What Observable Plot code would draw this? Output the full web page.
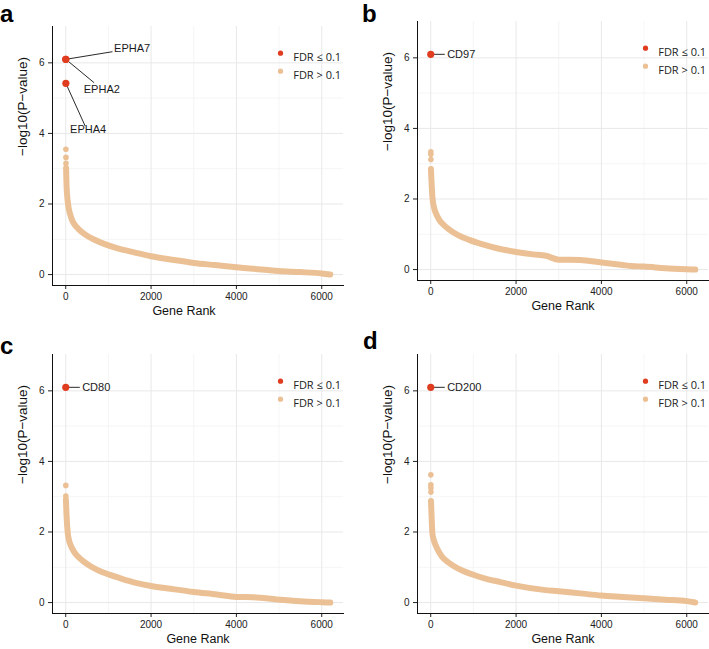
<!DOCTYPE html>
<html><head><meta charset="utf-8">
<script src="https://cdn.jsdelivr.net/npm/d3@7"></script>
<script src="https://cdn.jsdelivr.net/npm/@observablehq/plot@0.6"></script>
<style>
body{margin:0;background:#fff;overflow:hidden;font-family:"Liberation Sans",Arial,sans-serif}
#fig{position:relative;width:709px;height:649px;overflow:hidden;background:#fff}
.panel{position:absolute}
.tag{position:absolute;font:bold 24px "Liberation Sans",Arial,sans-serif;line-height:normal;color:#000}
</style></head><body><div id="fig"></div>
<script>
// ---- axis ticks & labels ----
const xTicks = [0, 2000, 4000, 6000];
const xMinor = [1000, 3000, 5000];
const yTicks = [0, 2, 4, 6];
const yMinor = [1, 3, 5];
const xTitle = "Gene Rank";
const yTitle = "\u2212log10(P\u2212value)";
const legendLabels = ["FDR \u2264 0.1", "FDR > 0.1"];
const panelTags = ["a", "b", "c", "d"];

// ---- panel a ----
const hitGenesA = ["EPHA7", "EPHA2", "EPHA4"];
const hitRanksA = [1, 2, 3];
const hitValuesA = [6.1, 6.1, 5.42];
const outRanksA = [4, 5, 6];
const outValuesA = [3.55, 3.32, 3.15];
const curveRanksA = [8, 20, 40, 70, 100, 150, 200, 300, 450, 650, 900, 1200, 1600, 2000, 2500, 3000, 3500, 4000, 4500, 5000, 5500, 6000, 6200];
const curveValuesA = [3.02, 2.5, 2.15, 1.88, 1.72, 1.54, 1.43, 1.29, 1.14, 1.0, 0.87, 0.75, 0.63, 0.52, 0.42, 0.33, 0.27, 0.21, 0.15, 0.1, 0.07, 0.03, 0.0];

// ---- panel b ----
const hitGenesB = ["CD97"];
const hitRanksB = [1];
const hitValuesB = [6.1];
const outRanksB = [2, 3, 4];
const outValuesB = [3.34, 3.27, 3.12];
const curveRanksB = [5, 20, 40, 70, 120, 200, 300, 450, 650, 900, 1200, 1600, 2000, 2400, 2700, 3000, 3500, 4000, 4500, 4700, 5000, 5500, 6000, 6200];
const curveValuesB = [2.85, 2.45, 2.05, 1.8, 1.6, 1.41, 1.27, 1.12, 0.97, 0.84, 0.72, 0.59, 0.5, 0.43, 0.39, 0.28, 0.27, 0.2, 0.13, 0.1, 0.085, 0.04, 0.01, 0.0];

// ---- panel c ----
const hitGenesC = ["CD80"];
const hitRanksC = [1];
const hitValuesC = [6.1];
const outRanksC = [2, 3];
const outValuesC = [3.32, 3.02];
const curveRanksC = [4, 20, 47, 70, 125, 200, 280, 400, 553, 750, 1021, 1300, 1643, 2000, 2455, 3000, 3546, 4000, 4400, 4949, 5494, 6000, 6200];
const curveValuesC = [2.92, 2.45, 1.98, 1.8, 1.6, 1.43, 1.31, 1.18, 1.05, 0.92, 0.79, 0.68, 0.56, 0.47, 0.39, 0.3, 0.23, 0.16, 0.15, 0.09, 0.04, 0.01, 0.0];

// ---- panel d ----
const hitGenesD = ["CD200"];
const hitRanksD = [1];
const hitValuesD = [6.1];
const outRanksD = [2, 3, 4, 5];
const outValuesD = [3.62, 3.34, 3.25, 3.13];
const curveRanksD = [6, 20, 40, 70, 117, 200, 273, 400, 546, 750, 1013, 1300, 1634, 2000, 2647, 3000, 3500, 4000, 4500, 5000, 5500, 6000, 6200];
const curveValuesD = [2.88, 2.45, 1.95, 1.78, 1.62, 1.42, 1.29, 1.15, 1.03, 0.9, 0.78, 0.67, 0.58, 0.48, 0.36, 0.32, 0.26, 0.2, 0.16, 0.12, 0.08, 0.04, 0.0];

// ---- styling ----
const RED = "#E03C1F", TAN = "#EBC095";
const FONT = "'Liberation Sans', Arial, sans-serif";
const xDomain = [-310, 6510], yDomain = [-0.31, 7.03];

const rows = (r, v, g) => r.map((rank, i) => ({rank, value: v[i], gene: g ? g[i] : null}));

const nudgeA = [
  {lx: 46.7, ly: -7.6, tx: 48.3, ty: -11, anchor: "start"},
  {lx: 28.3, ly: 23.4, tx: 36, ty: 30, anchor: "middle"},
  {lx: 19.3, ly: 42.7, tx: 22.3, ty: 46, anchor: "middle"}
];
const nudgeSide = [{lx: 14, ly: 0, tx: 16.4, ty: 0, anchor: "start"}];

const panels = [
  {tag: panelTags[0], left: 0, top: 0, width: 354, marginRight: 11, titleDx: -14,
   hits: rows(hitRanksA, hitValuesA, hitGenesA), out: rows(outRanksA, outValuesA), curve: rows(curveRanksA, curveValuesA), nudges: nudgeA,
   tagPos: [0, 0]},
  {tag: panelTags[1], left: 365, top: -5, width: 344, marginRight: 1, titleDx: 0,
   hits: rows(hitRanksB, hitValuesB, hitGenesB), out: rows(outRanksB, outValuesB), curve: rows(curveRanksB, curveValuesB), nudges: nudgeSide,
   tagPos: [362, 0]},
  {tag: panelTags[2], left: 0, top: 328, width: 354, marginRight: 11, titleDx: 0,
   hits: rows(hitRanksC, hitValuesC, hitGenesC), out: rows(outRanksC, outValuesC), curve: rows(curveRanksC, curveValuesC), nudges: nudgeSide,
   tagPos: [0, 331.6]},
  {tag: panelTags[3], left: 365, top: 328, width: 344, marginRight: 1, titleDx: 0,
   hits: rows(hitRanksD, hitValuesD, hitGenesD), out: rows(outRanksD, outValuesD), curve: rows(curveRanksD, curveValuesD), nudges: nudgeSide,
   tagPos: [363, 327.3]}
];

const fig = document.getElementById("fig");

for (const p of panels) {
  const height = 320, marginLeft = 52, marginTop = 26, marginBottom = 35;
  const kx = (xDomain[1] - xDomain[0]) / (p.width - marginLeft - p.marginRight);
  const ky = (yDomain[1] - yDomain[0]) / (height - marginTop - marginBottom);

  const labelMarks = p.hits.flatMap((h, i) => {
    const n = p.nudges[i];
    return [
      Plot.link([h], {x1: "rank", y1: "value", x2: d => d.rank + n.lx * kx, y2: d => d.value - n.ly * ky,
        stroke: "#111", strokeWidth: 0.9}),
      Plot.text([h], {x: "rank", y: "value", text: "gene", dx: n.tx, dy: n.ty, textAnchor: n.anchor,
        fontSize: 11, fill: "#1a1a1a", fontFamily: FONT})
    ];
  });

  const chart = Plot.plot({
    width: p.width, height, marginLeft, marginRight: p.marginRight, marginTop, marginBottom,
    style: {fontFamily: FONT, fontSize: "10px", color: "#222", background: "transparent", overflow: "visible"},
    x: {domain: xDomain, ticks: xTicks, tickFormat: d => String(d), tickSize: 4, tickPadding: 3, label: null},
    y: {domain: yDomain, ticks: yTicks, tickSize: 4, tickPadding: 4, label: null},
    marks: [
      Plot.ruleX(xMinor, {x: d => d, stroke: "#F3F3F3", strokeWidth: 0.8}),
      Plot.ruleY(yMinor, {y: d => d, stroke: "#F3F3F3", strokeWidth: 0.8}),
      Plot.ruleX(xTicks, {x: d => d, stroke: "#E8E8E8", strokeWidth: 1}),
      Plot.ruleY(yTicks, {y: d => d, stroke: "#E8E8E8", strokeWidth: 1}),
      Plot.frame({anchor: "left", stroke: "#111"}),
      Plot.frame({anchor: "bottom", stroke: "#111"}),
      Plot.line(p.curve, {x: "rank", y: "value", stroke: TAN, strokeWidth: 6, curve: "monotone-x",
        strokeLinecap: "round", strokeLinejoin: "round"}),
      Plot.dot(p.out, {x: "rank", y: "value", r: 2.8, fill: TAN}),
      ...labelMarks,
      Plot.dot(p.hits, {x: "rank", y: "value", r: 3.6, fill: RED}),
      // legend
      Plot.dot([legendLabels[0]], {frameAnchor: "top-right", dx: -63, dy: 26.7, r: 2.6, fill: RED}),
      Plot.dot([legendLabels[1]], {frameAnchor: "top-right", dx: -63, dy: 44.7, r: 2.6, fill: TAN}),
      Plot.text([legendLabels[0]], {frameAnchor: "top-right", text: d => d, dx: -50.3, dy: 26.7, textAnchor: "start",
        fontSize: 11, fill: "#222", fontFamily: "'Open Sans', sans-serif"}),
      Plot.text([legendLabels[1]], {frameAnchor: "top-right", text: d => d, dx: -50.3, dy: 44.7, textAnchor: "start",
        fontSize: 11, fill: "#222", fontFamily: "'Open Sans', sans-serif"}),
      // axis titles
      Plot.text([xTitle], {frameAnchor: "bottom", text: d => d, dy: 29, dx: p.titleDx, fontSize: 12.5, fill: "#111", fontFamily: FONT}),
      Plot.text([yTitle], {frameAnchor: "left", text: d => d, dx: -29.5, rotate: -90, fontSize: 13.5, fill: "#111", fontFamily: FONT})
    ]
  });

  const div = document.createElement("div");
  div.className = "panel";
  div.style.left = p.left + "px";
  div.style.top = p.top + "px";
  div.style.width = p.width + "px";
  div.appendChild(chart);
  fig.appendChild(div);

  const tag = document.createElement("div");
  tag.className = "tag";
  tag.textContent = p.tag;
  tag.style.left = p.tagPos[0] + "px";
  tag.style.top = p.tagPos[1] + "px";
  fig.appendChild(tag);
}
</script></body></html>
